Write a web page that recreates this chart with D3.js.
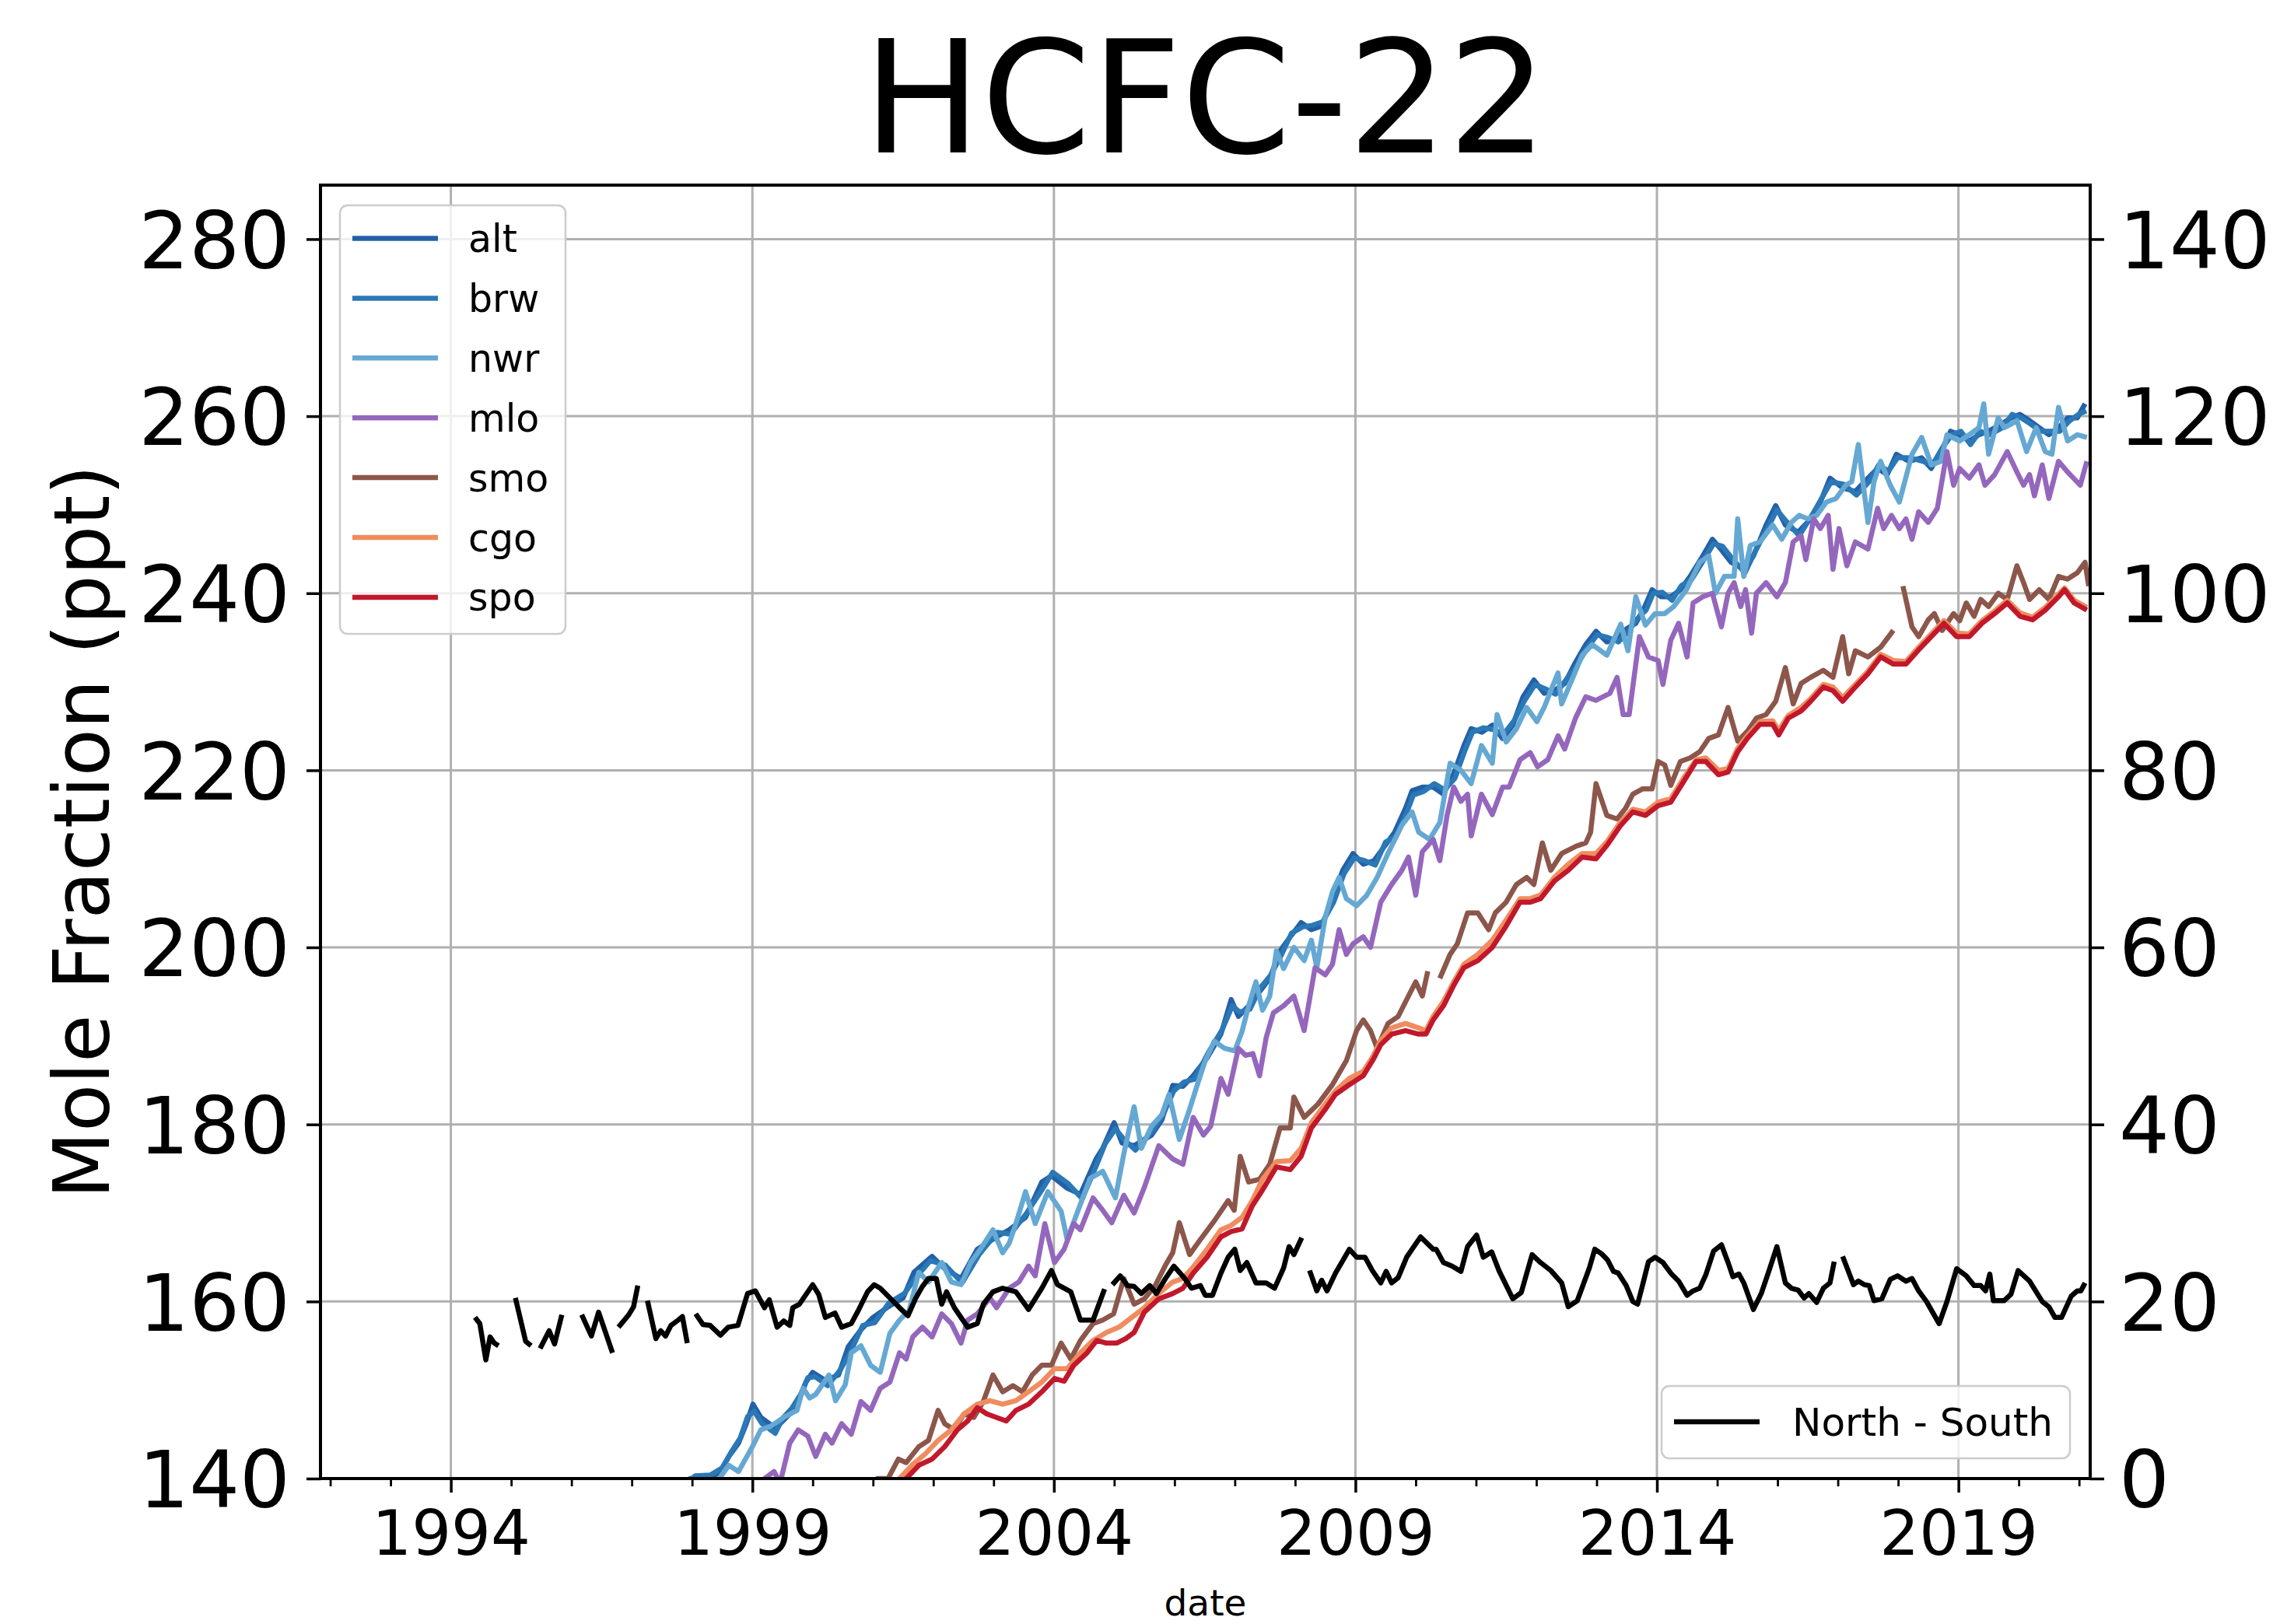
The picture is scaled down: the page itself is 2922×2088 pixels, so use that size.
<!DOCTYPE html>
<html>
<head>
<meta charset="utf-8">
<script src="https://cdn.jsdelivr.net/npm/d3@7"></script>
<style>
  body { margin: 0; background: #fff; }
  text { font-family: "DejaVu Sans", sans-serif; fill: #000; }
</style>
</head>
<body>
<div id="chart"></div>
<script>
// ---- data (decimal year, value); null marks a gap in the record ----
var stations = ["alt", "brw", "nwr", "mlo", "smo", "cgo", "spo"];

var alt = [[1997.7,138.5],[1997.97,140],[1998.29,140.2],[1998.45,140.6],[1998.61,142.5],[1998.77,144],[1998.9,146.2],[1999.01,148.4],[1999.14,146.9],[1999.36,145.8],[1999.46,146.2],[1999.62,147.3],[1999.76,148.7],[1999.89,150.9],[2000.0,152],[2000.21,151.1],[2000.43,151.7],[2000.59,154.9],[2000.8,156.8],[2001.0,158.2],[2001.23,159.3],[2001.5,160.4],[2001.68,163.3],[2001.98,165.1],[2002.19,163.7],[2002.46,162.6],[2002.73,165.9],[2003.05,167.3],[2003.26,168.1],[2003.53,169.5],[2003.8,173.5],[2003.96,174.2],[2004.22,172.8],[2004.44,172.1],[2004.7,176.1],[2004.81,177.3],[2005.0,180.2],[2005.13,177.9],[2005.33,177.6],[2005.62,178.8],[2005.79,180.5],[2005.97,184.4],[2006.14,184.3],[2006.31,185.5],[2006.54,187.5],[2006.77,190.2],[2006.94,194.1],[2007.06,192.2],[2007.23,193.4],[2007.4,194.9],[2007.58,196.5],[2007.75,199.6],[2007.92,201.2],[2008.1,202.8],[2008.27,202],[2008.44,202.4],[2008.62,205.5],[2008.79,208.7],[2008.96,210.6],[2009.13,209.4],[2009.31,209.8],[2009.48,211.4],[2009.65,213],[2009.83,215.7],[2009.94,217.7],[2010.11,218.1],[2010.29,218.1],[2010.46,217.3],[2010.63,219.6],[2010.8,222.8],[2010.92,224.7],[2011.1,224.3],[2011.27,225.1],[2011.44,223.6],[2011.61,225.1],[2011.78,228.3],[2011.96,230.2],[2012.13,228.7],[2012.3,229],[2012.47,229.8],[2012.65,232.2],[2012.82,234.2],[2012.99,235.7],[2013.17,234.5],[2013.34,234.9],[2013.5,236],[2013.65,236.6],[2013.8,238.5],[2013.92,240.4],[2014.07,239.6],[2014.23,239.6],[2014.39,240.4],[2014.55,241.9],[2014.76,244.2],[2014.92,246.1],[2015.07,244.9],[2015.23,243.5],[2015.44,242.7],[2015.6,244.2],[2015.81,247.7],[2015.97,249.9],[2016.13,247.7],[2016.34,246.9],[2016.55,248.4],[2016.71,250.3],[2016.87,253],[2017.08,251.9],[2017.29,251.5],[2017.5,253],[2017.66,254.1],[2017.82,253.4],[2017.97,255.7],[2018.18,254.9],[2018.39,255.3],[2018.55,254.1],[2018.71,256],[2018.87,258.3],[2019.02,257.9],[2019.18,257.2],[2019.34,257.9],[2019.5,258.3],[2019.71,259.1],[2019.87,259.8],[2020.02,260.2],[2020.18,259.5],[2020.34,258.7],[2020.5,257.9],[2020.66,258.7],[2020.81,259.8],[2020.97,259.8],[2021.1,261.4]];

var brw = [[1997.8,138.8],[1998.05,140.3],[1998.3,140.4],[1998.5,141.2],[1998.65,143],[1998.8,144.6],[1998.92,147],[1999.03,147.6],[1999.16,146.2],[1999.38,145.1],[1999.5,146.8],[1999.65,147.9],[1999.8,149.5],[1999.92,151.4],[2000.04,151.5],[2000.25,150.5],[2000.46,152.3],[2000.62,154.2],[2000.83,157.3],[2001.03,157.6],[2001.26,159.8],[2001.52,160.9],[2001.7,162.6],[2001.95,164.6],[2002.2,164.1],[2002.48,162.1],[2002.76,165.3],[2003.06,167.8],[2003.28,167.6],[2003.55,170],[2003.82,172.8],[2003.98,174.6],[2004.24,173.3],[2004.47,171.6],[2004.72,175.6],[2004.85,177.8],[2005.02,179.5],[2005.15,178.4],[2005.35,177.1],[2005.64,179.3],[2005.81,181.1],[2005.99,183.8],[2006.16,184.8],[2006.33,185.1],[2006.56,188.1],[2006.79,190.7],[2006.96,193.4],[2007.08,192.7],[2007.25,193],[2007.42,195.4],[2007.6,196.9],[2007.77,199.1],[2007.94,201.6],[2008.12,202.3],[2008.29,202.5],[2008.46,202.9],[2008.64,205.1],[2008.81,208.3],[2008.98,210.1],[2009.15,209.8],[2009.33,209.3],[2009.5,211.9],[2009.67,212.5],[2009.85,215.2],[2009.96,217.2],[2010.13,217.6],[2010.31,218.5],[2010.48,217.8],[2010.65,219.1],[2010.82,222.3],[2010.94,224.3],[2011.12,224.8],[2011.29,224.6],[2011.46,224.1],[2011.63,225.6],[2011.8,227.8],[2011.98,229.7],[2012.15,229.2],[2012.32,228.6],[2012.49,230.2],[2012.67,231.8],[2012.84,233.8],[2013.01,235.3],[2013.19,235],[2013.36,234.5],[2013.52,235.6],[2013.67,237.1],[2013.82,238.1],[2013.94,240],[2014.09,240.1],[2014.25,239.2],[2014.41,240.9],[2014.57,241.5],[2014.78,243.8],[2014.94,245.6],[2015.09,245.3],[2015.25,243.9],[2015.46,242.3],[2015.62,244.6],[2015.83,247.3],[2015.99,249.4],[2016.15,248.1],[2016.36,246.5],[2016.57,248.8],[2016.73,250.7],[2016.89,252.6],[2017.1,252.3],[2017.31,251.1],[2017.52,252.6],[2017.68,254.5],[2017.84,253.8],[2017.99,255.3],[2018.2,255.3],[2018.41,254.9],[2018.57,254.5],[2018.73,256.4],[2018.89,257.9],[2019.04,258.3],[2019.2,256.8],[2019.36,258.3],[2019.52,257.9],[2019.73,258.7],[2019.89,260.2],[2020.04,259.8],[2020.2,259.1],[2020.36,258.3],[2020.52,258.3],[2020.68,258.3],[2020.83,259.4],[2020.99,260.2],[2021.12,260.6]];

var nwr = [[1998.3,138.5],[1998.45,140],[1998.61,141.5],[1998.77,140.8],[1999.0,143.6],[1999.14,145.5],[1999.3,145.9],[1999.52,146.9],[1999.74,147.7],[1999.84,150.2],[1999.95,149.1],[2000.05,149.5],[2000.27,151.7],[2000.38,148.8],[2000.54,150.6],[2000.64,154.2],[2000.8,155],[2000.96,152.8],[2001.12,152],[2001.28,156.4],[2001.44,157.9],[2001.6,159],[2001.76,163.3],[2001.92,162.2],[2002.14,164.4],[2002.3,162.2],[2002.46,161.9],[2002.62,164.4],[2002.78,165.9],[2002.99,168.1],[2003.15,165.5],[2003.26,166.6],[2003.37,168.8],[2003.53,172.4],[2003.69,168.8],[2003.9,172.4],[2004.12,170.2],[2004.22,167],[2004.38,169.9],[2004.6,173.9],[2004.81,174.7],[2005.02,171.7],[2005.16,176.7],[2005.33,182],[2005.45,177.3],[2005.62,179.8],[2005.79,181.1],[2005.91,183.4],[2006.08,178.3],[2006.25,181.7],[2006.37,184.3],[2006.5,187],[2006.66,189.4],[2006.83,188.6],[2007.0,188.3],[2007.12,190.5],[2007.23,193.4],[2007.35,196.1],[2007.46,192.9],[2007.58,194.5],[2007.69,199.6],[2007.81,197.6],[2007.98,200],[2008.15,198.5],[2008.27,200.8],[2008.36,197.7],[2008.5,203.4],[2008.62,206.3],[2008.73,207.9],[2008.85,205.5],[2009.02,204.7],[2009.19,205.9],[2009.36,207.9],[2009.54,210.6],[2009.77,213.8],[2009.94,215.3],[2010.05,213],[2010.23,212.2],[2010.4,214.1],[2010.57,220.8],[2010.75,220],[2010.92,218.5],[2011.09,222.8],[2011.27,220.8],[2011.35,226.3],[2011.5,223.2],[2011.67,224.7],[2011.84,227.1],[2012.01,225.5],[2012.13,227.1],[2012.24,229],[2012.36,231],[2012.42,227.5],[2012.59,230.2],[2012.76,233],[2012.93,234.2],[2013.17,233],[2013.4,236.5],[2013.52,233.5],[2013.65,239.6],[2013.81,236.4],[2013.97,237.7],[2014.13,237.7],[2014.28,238.5],[2014.49,240.4],[2014.71,243.5],[2014.86,244.2],[2014.97,240],[2015.12,241.9],[2015.28,241.9],[2015.34,248.4],[2015.44,241.9],[2015.55,245.4],[2015.71,245.8],[2015.92,247.7],[2016.07,246.1],[2016.23,248],[2016.36,248.8],[2016.5,248.4],[2016.65,248.8],[2016.81,250.3],[2016.97,250.7],[2017.13,252.2],[2017.23,252.6],[2017.34,256.8],[2017.5,248],[2017.6,252.6],[2017.71,254.9],[2017.87,252.2],[2018.02,250.3],[2018.23,255.7],[2018.39,257.6],[2018.55,254.5],[2018.71,254.9],[2018.81,257.9],[2019.02,257.2],[2019.18,257.9],[2019.34,258.7],[2019.42,261.4],[2019.5,255.7],[2019.66,259.8],[2019.76,258.7],[2019.87,259.1],[2019.97,259.5],[2020.13,256],[2020.29,258.7],[2020.44,256],[2020.55,255.7],[2020.66,261],[2020.81,257.2],[2020.97,257.9],[2021.13,257.6]];

var mlo = [[1999.0,137],[1999.2,140],[1999.36,140.8],[1999.46,139.5],[1999.62,144],[1999.76,145.5],[1999.92,144.8],[2000.05,142.5],[2000.21,145],[2000.32,144],[2000.48,146.2],[2000.64,145],[2000.8,148.7],[2000.96,147.7],[2001.12,150.2],[2001.28,150.9],[2001.44,154.2],[2001.55,153.5],[2001.66,156],[2001.82,157.1],[2001.98,156],[2002.14,158.6],[2002.3,157.5],[2002.46,155.3],[2002.57,157.9],[2002.73,158.6],[2002.94,160.4],[2003.05,159.3],[2003.26,161.5],[2003.42,162.2],[2003.58,164],[2003.69,162.9],[2003.85,168.8],[2004.01,164.4],[2004.17,165.9],[2004.33,168.8],[2004.44,168.1],[2004.65,171.7],[2004.81,170.3],[2004.96,168.9],[2005.16,172],[2005.33,170],[2005.5,172.9],[2005.74,177.6],[2005.97,176.1],[2006.14,175.5],[2006.31,180.8],[2006.48,178.8],[2006.6,179.8],[2006.77,185.2],[2006.89,183.4],[2007.06,188.6],[2007.18,187.8],[2007.3,188],[2007.41,185.5],[2007.52,189.8],[2007.64,192.6],[2007.81,193.4],[2007.98,194.5],[2008.15,190.6],[2008.33,197.7],[2008.5,196.9],[2008.62,198.1],[2008.73,202],[2008.85,199.2],[2008.96,200.4],[2009.13,201.2],[2009.25,200],[2009.42,205.1],[2009.6,207.1],[2009.77,208.7],[2009.88,210.2],[2010.0,205.9],[2010.11,210.8],[2010.29,212.2],[2010.4,209.8],[2010.52,214.9],[2010.63,218.1],[2010.75,216.5],[2010.86,217.3],[2010.92,212.6],[2011.09,217.3],[2011.27,215],[2011.44,218.1],[2011.55,218.1],[2011.73,221.2],[2011.9,222],[2012.02,220.4],[2012.19,221.2],[2012.36,223.9],[2012.47,222.4],[2012.65,225.9],[2012.82,228.3],[2012.99,227.9],[2013.22,228.7],[2013.34,230.5],[2013.44,226.3],[2013.54,226.3],[2013.71,235.1],[2013.86,232.8],[2014.02,232.4],[2014.1,229.7],[2014.23,234.7],[2014.36,236.6],[2014.5,232.8],[2014.6,238.9],[2014.76,239.6],[2014.92,240],[2015.07,236.2],[2015.18,240],[2015.28,241.2],[2015.39,238.5],[2015.47,240.4],[2015.57,235.5],[2015.65,240],[2015.81,241.2],[2015.99,239.6],[2016.13,241.2],[2016.26,245.8],[2016.39,246.5],[2016.47,243.8],[2016.6,248.4],[2016.71,247.3],[2016.84,248.8],[2016.92,242.7],[2017.02,247.3],[2017.15,243.1],[2017.29,245.8],[2017.5,245],[2017.66,249.6],[2017.76,247.3],[2017.89,248.8],[2018.02,247.3],[2018.13,248.4],[2018.23,246.1],[2018.34,249.2],[2018.5,248],[2018.65,249.6],[2018.81,256],[2018.92,252.2],[2019.02,254.1],[2019.18,253],[2019.34,254.5],[2019.44,252.2],[2019.6,253.4],[2019.81,256],[2019.97,253.7],[2020.08,252.2],[2020.18,253.4],[2020.26,251],[2020.39,254.5],[2020.5,250.7],[2020.66,254.9],[2020.81,253.7],[2021.02,252.2],[2021.13,254.9]];

var smo = [[2000.8,138],[2001.07,140],[2001.25,140],[2001.42,142.2],[2001.55,141.8],[2001.76,143.6],[2001.92,144.3],[2002.08,147.7],[2002.19,146.2],[2002.35,145.5],[2002.51,147.3],[2002.67,146.9],[2002.83,148.7],[2002.99,151.7],[2003.15,149.8],[2003.32,150.5],[2003.48,149.8],[2003.64,151.7],[2003.8,152.8],[2003.96,152.8],[2004.12,155.3],[2004.28,153.5],[2004.44,155.6],[2004.65,157.5],[2004.81,157.9],[2004.99,158.6],[2005.16,162.6],[2005.33,159.7],[2005.5,160.3],[2005.68,161.8],[2005.85,164.1],[2005.97,165.5],[2006.08,168.9],[2006.25,165.3],[2006.43,167],[2006.66,169.1],[2006.89,171.4],[2006.99,170.3],[2007.09,176.4],[2007.23,173.5],[2007.41,173.8],[2007.58,175.5],[2007.75,179.6],[2007.92,179.6],[2007.98,183.1],[2008.15,180.8],[2008.38,182.3],[2008.62,184.5],[2008.85,187.2],[2009.02,190.6],[2009.13,191.8],[2009.25,190.6],[2009.36,188.6],[2009.54,191.4],[2009.71,192.2],[2009.88,194.5],[2010.0,196.1],[2010.11,194.5],[2010.2,197.3],null,[2010.4,196.5],[2010.57,199.2],[2010.69,200.4],[2010.86,203.9],[2011.03,203.9],[2011.21,202],[2011.32,203.9],[2011.5,205.1],[2011.67,207.1],[2011.84,207.9],[2011.96,207.1],[2012.1,211.8],[2012.24,208.7],[2012.42,210.6],[2012.65,211.4],[2012.82,211.8],[2012.9,213],[2012.99,218.5],[2013.17,214.9],[2013.34,214.5],[2013.48,215.7],[2013.6,217.3],[2013.76,217.9],[2013.92,217.9],[2014.02,221],[2014.13,220.6],[2014.23,218.3],[2014.39,221],[2014.55,221.4],[2014.71,222.1],[2014.86,223.6],[2015.02,224],[2015.18,227.1],[2015.34,223.3],[2015.5,224.4],[2015.65,225.9],[2015.81,226.3],[2015.97,227.8],[2016.13,231.6],[2016.26,227.5],[2016.39,229.8],[2016.55,230.5],[2016.76,231.3],[2016.92,230.5],[2017.08,235.1],[2017.18,230.9],[2017.29,233.5],[2017.5,232.8],[2017.71,233.9],[2017.92,235.8],null,[2018.08,240.8],[2018.23,236.2],[2018.34,235.1],[2018.5,237],[2018.6,237.7],[2018.73,235.8],[2018.92,237.7],[2019.02,236.9],[2019.13,238.9],[2019.26,237.4],[2019.37,239.3],[2019.5,238.5],[2019.66,240],[2019.81,239.3],[2019.97,243.1],[2020.08,241.2],[2020.18,239.3],[2020.34,240.4],[2020.5,239.3],[2020.66,241.9],[2020.81,241.6],[2020.97,242.3],[2021.1,243.5],[2021.16,240.8]];

var cgo = [[2001.2,138],[2001.44,140],[2001.66,141.6],[2001.87,142.8],[2002.08,144.3],[2002.3,145.5],[2002.51,147.3],[2002.73,148.4],[2002.94,148.8],[2003.15,148.4],[2003.37,148.8],[2003.58,149.8],[2003.8,150.9],[2004.01,152.4],[2004.22,152.4],[2004.44,154.2],[2004.65,155.6],[2004.87,156.5],[2005.08,157.1],[2005.29,158.2],[2005.5,159.3],[2005.74,160.9],[2005.97,162.2],[2006.14,162.6],[2006.31,163.9],[2006.54,165.9],[2006.77,168.1],[2006.94,168.6],[2007.12,169.5],[2007.29,171.4],[2007.46,173.8],[2007.69,175.8],[2007.92,175.9],[2008.1,177.3],[2008.27,180.2],[2008.5,182.3],[2008.67,183.8],[2008.9,185.2],[2009.13,186],[2009.3,187.8],[2009.42,189.5],[2009.6,190.9],[2009.83,191.4],[2010.05,190.9],[2010.17,190.6],[2010.29,192.2],[2010.46,193.9],[2010.63,196.1],[2010.8,198.1],[2011.03,199.2],[2011.27,200.8],[2011.5,203.1],[2011.73,205.5],[2011.9,205.5],[2012.07,205.9],[2012.3,207.9],[2012.53,209.4],[2012.76,210.6],[2012.99,210.6],[2013.18,212],[2013.39,214.1],[2013.6,215.6],[2013.81,215.3],[2014.02,216.4],[2014.23,216.8],[2014.44,219.1],[2014.65,221.2],[2014.81,221.4],[2015.02,220],[2015.18,220.2],[2015.34,222.5],[2015.5,223.9],[2015.71,225.5],[2015.92,225.6],[2016.02,224.5],[2016.18,226.2],[2016.39,227.1],[2016.55,228.1],[2016.76,229.7],[2016.92,229.4],[2017.08,228.2],[2017.29,229.7],[2017.5,231.2],[2017.71,233.1],[2017.92,232.4],[2018.13,232.3],[2018.34,233.9],[2018.55,235.4],[2018.76,236.9],[2018.97,235.5],[2019.18,235.4],[2019.39,236.9],[2019.6,238],[2019.81,239.2],[2020.02,237.8],[2020.23,237.3],[2020.44,238.4],[2020.66,239.9],[2020.76,240.6],[2020.92,239.2],[2021.13,238.4]];

var spo = [[2001.3,138],[2001.55,140],[2001.76,141.5],[2001.98,142.2],[2002.19,143.6],[2002.4,145.5],[2002.57,146.5],[2002.73,148],[2002.89,147.3],[2003.05,146.9],[2003.21,146.5],[2003.37,147.7],[2003.58,148.4],[2003.8,149.8],[2004.01,151.3],[2004.17,151],[2004.33,152.8],[2004.55,154.2],[2004.71,155.6],[2004.87,155.3],[2005.04,155.3],[2005.19,155.8],[2005.33,156.5],[2005.5,158.8],[2005.74,160.3],[2005.97,160.9],[2006.14,161.5],[2006.31,163.2],[2006.54,165],[2006.77,167.3],[2006.94,167.9],[2007.12,168.2],[2007.29,170.8],[2007.46,172.6],[2007.69,175.2],[2007.92,174.9],[2008.1,176.4],[2008.27,179.6],[2008.5,181.7],[2008.67,183.4],[2008.9,184.5],[2009.13,185.5],[2009.3,187.4],[2009.42,189],[2009.6,190.2],[2009.83,190.6],[2010.05,190.2],[2010.17,190.2],[2010.29,191.8],[2010.46,193.4],[2010.63,195.7],[2010.8,197.7],[2011.03,198.5],[2011.27,200],[2011.5,202.4],[2011.73,205.1],[2011.9,205.1],[2012.07,205.5],[2012.3,207.5],[2012.53,208.7],[2012.76,210.2],[2012.99,210],[2013.18,211.6],[2013.39,213.7],[2013.6,215.3],[2013.81,214.9],[2014.02,216],[2014.23,216.4],[2014.44,218.7],[2014.65,221],[2014.81,221],[2015.02,219.5],[2015.18,219.8],[2015.34,222.1],[2015.5,223.6],[2015.71,225.2],[2015.92,225.2],[2016.02,224],[2016.18,225.9],[2016.39,226.7],[2016.55,227.8],[2016.76,229.4],[2016.92,229],[2017.08,227.8],[2017.29,229.4],[2017.5,230.9],[2017.71,232.8],[2017.92,232],[2018.13,232],[2018.34,233.6],[2018.55,235.1],[2018.76,236.6],[2018.97,235.1],[2019.18,235.1],[2019.39,236.6],[2019.6,237.7],[2019.81,238.9],[2020.02,237.4],[2020.23,237],[2020.44,238.1],[2020.66,239.6],[2020.76,240.4],[2020.92,238.9],[2021.13,238.1]];

// north minus south difference, right axis
var northSouth = [[1994.4,18.2],[1994.48,17.5],[1994.58,13.4],[1994.65,16.0],[1994.72,15.3],[1994.79,15.0],null,[1995.07,20.4],[1995.24,15.5],[1995.33,15.0],null,[1995.48,14.7],[1995.63,16.7],[1995.72,15.2],[1995.84,18.5],null,[1996.17,18.5],[1996.33,16.1],[1996.45,18.8],[1996.68,14.2],null,[1996.78,17.1],[1996.95,18.5],[1997.03,19.4],[1997.1,21.8],null,[1997.26,20.1],[1997.4,15.8],[1997.48,16.7],[1997.56,16.1],[1997.65,17.3],[1997.77,17.9],[1997.84,18.3],[1997.92,15.3],null,[1998.06,18.6],[1998.18,17.4],[1998.3,17.3],[1998.47,16.2],[1998.6,17.1],[1998.76,17.3],[1998.92,20.9],[1999.05,21.2],[1999.2,19.3],[1999.28,20.2],[1999.41,17.1],[1999.52,17.8],[1999.62,17.3],[1999.67,19.3],[1999.78,19.7],[1999.89,20.8],[2000.0,21.9],[2000.1,20.8],[2000.21,18.2],[2000.37,18.7],[2000.48,17.1],[2000.64,17.5],[2000.75,18.9],[2000.91,21.1],[2001.02,21.9],[2001.12,21.5],[2001.28,20.4],[2001.44,19.3],[2001.58,18.4],[2001.71,20.4],[2001.82,21.7],[2001.92,22.6],[2002.05,22.6],[2002.14,19.7],[2002.22,21.1],[2002.35,19.3],[2002.46,18.2],[2002.57,17.1],[2002.73,17.5],[2002.83,19.7],[2002.99,21.1],[2003.15,21.5],[2003.37,21.1],[2003.58,19.1],[2003.8,21.5],[2003.96,23.5],[2004.06,21.9],[2004.28,21.1],[2004.44,17.9],[2004.65,17.9],[2004.84,21.4],null,[2004.97,21.9],[2005.1,22.9],[2005.22,21.8],[2005.33,21.7],[2005.45,20.9],[2005.59,21.8],[2005.7,20.9],[2005.85,22.6],[2005.99,24],[2006.17,22.6],[2006.28,21.5],[2006.43,21.8],[2006.51,20.7],[2006.63,20.7],[2006.77,23.2],[2006.89,25],[2007.0,25.9],[2007.09,23.5],[2007.2,24.4],[2007.35,22.1],[2007.52,22.1],[2007.66,21.5],[2007.81,23.8],[2007.9,26.2],[2007.98,25.3],[2008.11,27.2],null,[2008.24,23.5],[2008.36,21.2],[2008.44,22.4],[2008.53,21.2],[2008.67,23.2],[2008.9,25.9],[2009.02,25],[2009.16,25],[2009.28,23.5],[2009.42,22.1],[2009.51,23.4],[2009.6,22.1],[2009.71,22.7],[2009.85,25],[2010.08,27.3],[2010.29,25.9],[2010.34,25.9],[2010.46,24.4],[2010.6,24],[2010.75,23.4],[2010.86,26.2],[2011.01,27.5],[2011.12,25],[2011.26,25.6],[2011.38,23.5],[2011.61,20.3],[2011.75,21],[2011.93,25.3],[2012.07,24.4],[2012.24,23.5],[2012.42,22.1],[2012.53,19.4],[2012.68,20.1],[2012.88,23.8],[2012.97,25.9],[2013.08,25.4],[2013.18,24.7],[2013.28,23.4],[2013.36,23.2],[2013.49,21.8],[2013.6,20],[2013.68,19.7],[2013.76,21.8],[2013.86,24.5],[2013.97,25],[2014.1,24.4],[2014.23,23.2],[2014.36,22.3],[2014.5,20.7],[2014.6,21.2],[2014.71,21.5],[2014.81,23],[2014.94,25.7],[2015.07,26.4],[2015.18,24.4],[2015.26,22.8],[2015.36,23.1],[2015.44,22.1],[2015.6,19.1],[2015.73,20.9],[2015.86,23.5],[2015.99,26.2],[2016.13,22.1],[2016.23,21.5],[2016.34,21.3],[2016.44,20.4],[2016.52,20.9],[2016.65,19.9],[2016.76,21.5],[2016.87,22.1],[2016.94,24.5],null,[2017.08,25.1],[2017.26,21.9],[2017.34,22.3],[2017.44,21.9],[2017.52,21.8],[2017.6,20.1],[2017.73,20.3],[2017.87,22.5],[2017.99,22.9],[2018.13,22.3],[2018.23,22.6],[2018.34,21.2],[2018.47,20],[2018.68,17.5],[2018.81,20],[2018.97,23.7],[2019.13,22.9],[2019.26,21.8],[2019.37,21.8],[2019.45,21.2],[2019.52,23.1],[2019.58,20.1],[2019.76,20.1],[2019.87,20.8],[2019.99,23.5],[2020.18,22.3],[2020.39,20],[2020.5,19.4],[2020.6,18.2],[2020.71,18.2],[2020.87,20.6],[2020.97,21.2],[2021.03,21.2],[2021.1,22.1]];

var xMajorTicks = [1994, 1999, 2004, 2009, 2014, 2019];
var xMinorTicks = d3.range(1992, 2022);
var yLeftTicks = [140, 160, 180, 200, 220, 240, 260, 280];
var yRightTicks = [0, 20, 40, 60, 80, 100, 120, 140];

// ---- styles ----
var stationColors = ["#2460a7", "#2b78b6", "#65a8d3", "#9467bd", "#8c564b", "#f08c5e", "#c1182c"];
var stationSeries = [alt, brw, nwr, mlo, smo, cgo, spo];
var lineWidth = 6.5;

var width = 2922, height = 2088;
var plot = {left: 412, right: 2687, top: 238, bottom: 1901};

var svg = d3.select("#chart").append("svg")
    .attr("width", width).attr("height", height)
    .attr("viewBox", "0 0 " + width + " " + height);

svg.append("rect").attr("width", width).attr("height", height).attr("fill", "#fff");

var x = d3.scaleLinear().domain([1991.838, 2021.185]).range([plot.left, plot.right]);
var y = d3.scaleLinear().domain([140, 286.1]).range([plot.bottom, plot.top]);
var yR = d3.scaleLinear().domain([0, 146.1]).range([plot.bottom, plot.top]);

svg.append("clipPath").attr("id", "plotclip")
  .append("rect")
    .attr("x", plot.left).attr("y", plot.top)
    .attr("width", plot.right - plot.left).attr("height", plot.bottom - plot.top);

// grid
var grid = svg.append("g").attr("class", "grid");
grid.selectAll("line.vx").data(xMajorTicks).enter().append("line")
    .attr("x1", function(d) { return x(d); }).attr("x2", function(d) { return x(d); })
    .attr("y1", plot.top).attr("y2", plot.bottom)
    .attr("stroke", "#b0b0b0").attr("stroke-width", 3);
grid.selectAll("line.hy").data(yLeftTicks).enter().append("line")
    .attr("x1", plot.left).attr("x2", plot.right)
    .attr("y1", function(d) { return y(d); }).attr("y2", function(d) { return y(d); })
    .attr("stroke", "#b0b0b0").attr("stroke-width", 3);

// station lines
var line = d3.line()
    .defined(function(d) { return d !== null; })
    .x(function(d) { return x(d[0]); })
    .y(function(d) { return y(d[1]); });

var lines = svg.append("g").attr("clip-path", "url(#plotclip)");
stationSeries.forEach(function(series, i) {
    lines.append("path")
        .datum(series)
        .attr("d", line)
        .attr("fill", "none")
        .attr("stroke", stationColors[i])
        .attr("stroke-width", lineWidth)
        .attr("stroke-linejoin", "round");
});

// legend for stations
var leg = svg.append("g").attr("class", "legend");
leg.append("rect")
    .attr("x", 437).attr("y", 264).attr("width", 290).attr("height", 551)
    .attr("rx", 10).attr("ry", 10)
    .attr("fill", "#fff").attr("fill-opacity", 0.8)
    .attr("stroke", "#cccccc").attr("stroke-width", 2.5);
stations.forEach(function(name, i) {
    var ly = 306.5 + i * 76.9;
    leg.append("line")
        .attr("x1", 453).attr("x2", 563).attr("y1", ly).attr("y2", ly)
        .attr("stroke", stationColors[i]).attr("stroke-width", lineWidth);
    leg.append("text")
        .attr("x", 602).attr("y", ly + 17.5)
        .attr("font-size", 49)
        .text(name);
});

// north - south on the twin axis
var lineR = d3.line()
    .defined(function(d) { return d !== null; })
    .x(function(d) { return x(d[0]); })
    .y(function(d) { return yR(d[1]); });

svg.append("g").attr("clip-path", "url(#plotclip)")
  .append("path")
    .datum(northSouth)
    .attr("d", lineR)
    .attr("fill", "none")
    .attr("stroke", "#000")
    .attr("stroke-width", lineWidth)
    .attr("stroke-linejoin", "round");

var leg2 = svg.append("g").attr("class", "legend2");
leg2.append("rect")
    .attr("x", 2136).attr("y", 1782).attr("width", 525).attr("height", 93)
    .attr("rx", 10).attr("ry", 10)
    .attr("fill", "#fff").attr("fill-opacity", 0.8)
    .attr("stroke", "#cccccc").attr("stroke-width", 2.5);
leg2.append("line")
    .attr("x1", 2152).attr("x2", 2262).attr("y1", 1828).attr("y2", 1828)
    .attr("stroke", "#000").attr("stroke-width", lineWidth);
leg2.append("text")
    .attr("x", 2304).attr("y", 1846)
    .attr("font-size", 50)
    .text("North - South");

// axes
var xAxis = svg.append("g")
    .attr("transform", "translate(0," + plot.bottom + ")")
    .call(d3.axisBottom(x).tickValues(xMajorTicks).tickFormat(d3.format("d"))
        .tickSize(18).tickSizeOuter(0).tickPadding(0));
xAxis.select(".domain").remove();
xAxis.selectAll(".tick line").attr("stroke", "#000").attr("stroke-width", 3.5);
xAxis.selectAll(".tick text")
    .attr("y", 98).attr("dy", null)
    .attr("font-size", 80).attr("font-family", "DejaVu Sans");

var xMinor = svg.append("g")
    .attr("transform", "translate(0," + plot.bottom + ")")
    .call(d3.axisBottom(x).tickValues(xMinorTicks.filter(function(d) { return xMajorTicks.indexOf(d) < 0; }))
        .tickSize(10).tickSizeOuter(0).tickFormat(""));
xMinor.select(".domain").remove();
xMinor.selectAll(".tick line").attr("stroke", "#000").attr("stroke-width", 2.8);

var yAxisL = svg.append("g")
    .attr("transform", "translate(" + plot.left + ",0)")
    .call(d3.axisLeft(y).tickValues(yLeftTicks).tickSize(18).tickSizeOuter(0).tickPadding(21));
yAxisL.select(".domain").remove();
yAxisL.selectAll(".tick line").attr("stroke", "#000").attr("stroke-width", 3.5);
yAxisL.selectAll(".tick text")
    .attr("dy", "0.36em").attr("font-size", 102).attr("font-family", "DejaVu Sans");

var yAxisR = svg.append("g")
    .attr("transform", "translate(" + plot.right + ",0)")
    .call(d3.axisRight(yR).tickValues(yRightTicks).tickSize(18).tickSizeOuter(0).tickPadding(19));
yAxisR.select(".domain").remove();
yAxisR.selectAll(".tick line").attr("stroke", "#000").attr("stroke-width", 3.5);
yAxisR.selectAll(".tick text")
    .attr("dy", "0.36em").attr("font-size", 102).attr("font-family", "DejaVu Sans");

// spines
svg.append("rect")
    .attr("x", plot.left).attr("y", plot.top)
    .attr("width", plot.right - plot.left).attr("height", plot.bottom - plot.top)
    .attr("fill", "none").attr("stroke", "#000").attr("stroke-width", 4);

// titles
svg.append("text")
    .attr("x", (plot.left + plot.right) / 2).attr("y", 196)
    .attr("text-anchor", "middle").attr("font-size", 202)
    .text("HCFC-22");

svg.append("text")
    .attr("transform", "translate(140," + (plot.top + plot.bottom) / 2 + ") rotate(-90)")
    .attr("text-anchor", "middle").attr("font-size", 100)
    .text("Mole Fraction (ppt)");

svg.append("text")
    .attr("x", (plot.left + plot.right) / 2).attr("y", 2077)
    .attr("text-anchor", "middle").attr("font-size", 47)
    .text("date");
</script>
</body>
</html>
